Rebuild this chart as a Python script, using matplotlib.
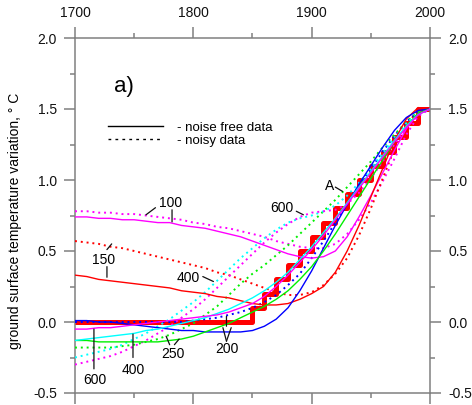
import matplotlib
matplotlib.use("Agg")
import matplotlib.pyplot as plt
from matplotlib.lines import Line2D
from matplotlib.ticker import MultipleLocator

plt.rcParams['font.family'] = ['Liberation Sans', 'DejaVu Sans']

# years for the reconstructed histories (every 10 years)
years = list(range(1700, 2001, 10))

# "true" history A: stepwise warming from 1850
step_years = [1700, 1850, 1860, 1870, 1880, 1890, 1900, 1910, 1920, 1930,
              1940, 1950, 1960, 1970, 1980, 1990, 2000]
step_vals = [0.0, 0.1, 0.2, 0.3, 0.4, 0.5, 0.6, 0.7, 0.8, 0.9,
             1.0, 1.1, 1.2, 1.3, 1.4, 1.5, 1.5]

# noise free (solid) and noisy (dotted) inversions, labelled by parameter
free_100 = [.74, .74, .73, .73, .72, .72, .71, .70, .70, .68, .67, .66, .64, .62, .60, .57,
            .54, .51, .48, .46, .45, .46, .50, .60, .74, .89, 1.05, 1.21, 1.36, 1.47, 1.50]
noisy_100 = [.78, .78, .77, .77, .76, .76, .75, .74, .73, .72, .70, .69, .67, .66, .64, .62,
             .60, .57, .55, .53, .52, .52, .55, .62, .72, .84, .99, 1.15, 1.32, 1.45, 1.50]
free_150 = [.33, .32, .30, .29, .28, .27, .26, .25, .24, .22, .21, .20, .18, .17, .15, .13,
            .12, .12, .13, .16, .20, .25, .35, .50, .68, .88, 1.08, 1.28, 1.43, 1.51, 1.50]
noisy_150 = [.57, .56, .55, .53, .52, .50, .48, .46, .44, .42, .40, .38, .35, .33, .30, .27,
             .24, .21, .19, .19, .21, .26, .34, .45, .61, .80, 1.01, 1.22, 1.39, 1.49, 1.50]
free_200 = [.01, .01, .00, .00, -.01, -.02, -.03, -.04, -.05, -.06, -.06, -.07, -.07, -.07, -.07, -.06,
            -.03, .02, .10, .22, .36, .52, .68, .83, .97, 1.10, 1.23, 1.35, 1.44, 1.49, 1.50]
noisy_200 = [.00, .00, .00, .00, .00, .00, .00, .00, .00, .00, .01, .02, .03, .05, .07, .10,
             .14, .19, .26, .34, .45, .57, .70, .83, .96, 1.08, 1.20, 1.31, 1.41, 1.48, 1.50]
free_250 = [-.13, -.13, -.14, -.14, -.14, -.14, -.14, -.14, -.13, -.12, -.10, -.07, -.04, -.01, .03, .07,
            .11, .16, .22, .30, .39, .50, .62, .75, .88, 1.01, 1.14, 1.27, 1.38, 1.47, 1.50]
noisy_250 = [-.18, -.18, -.18, -.18, -.17, -.16, -.14, -.12, -.09, -.05, -.01, .05, .11, .19, .27, .34,
             .40, .47, .54, .62, .70, .78, .86, .95, 1.04, 1.13, 1.23, 1.32, 1.41, 1.48, 1.50]
free_400 = [-.13, -.12, -.11, -.10, -.09, -.08, -.06, -.05, -.03, -.01, .01, .03, .06, .09, .13, .17,
            .22, .28, .35, .44, .53, .63, .73, .84, .95, 1.06, 1.17, 1.28, 1.38, 1.46, 1.50]
noisy_400 = [-.25, -.23, -.21, -.19, -.16, -.12, -.08, -.03, .02, .08, .14, .21, .29, .37, .45, .52,
             .59, .65, .70, .73, .75, .78, .82, .89, .98, 1.08, 1.19, 1.30, 1.40, 1.47, 1.50]
free_600 = [-.05, -.05, -.04, -.04, -.03, -.02, -.01, .00, .01, .02, .03, .04, .05, .07, .10, .13,
            .18, .25, .33, .42, .51, .61, .72, .83, .94, 1.05, 1.16, 1.27, 1.37, 1.46, 1.50]
noisy_600 = [-.30, -.28, -.26, -.24, -.21, -.17, -.13, -.08, -.03, .03, .09, .16, .24, .32, .40, .48,
             .56, .63, .69, .74, .77, .78, .79, .83, .91, 1.01, 1.13, 1.25, 1.37, 1.46, 1.50]

series = [
    (free_100, noisy_100, '#ff00ff'),
    (free_150, noisy_150, '#ff0000'),
    (free_200, noisy_200, '#0000ff'),
    (free_250, noisy_250, '#00f000'),
    (free_400, noisy_400, '#00ffff'),
    (free_600, noisy_600, '#ff00ff'),
]

fig = plt.figure(figsize=(4.72, 4.05), dpi=100)
ax = fig.add_axes([75 / 472, 12 / 405, 355 / 472, 355 / 405])

ax.step(step_years, step_vals, where='post', color='#ff0000', lw=3.6, zorder=2)
for free, noisy, col in series:
    ax.plot(years, noisy, color=col, lw=1.4, ls=(0, (1, 2)), zorder=3)
    ax.plot(years, free, color=col, lw=1.0, zorder=4)

ax.set_xlim(1700, 2000)
ax.set_ylim(-0.5, 2.0)
ax.xaxis.set_major_locator(MultipleLocator(100))
ax.xaxis.set_minor_locator(MultipleLocator(50))
ax.yaxis.set_major_locator(MultipleLocator(0.5))
ax.yaxis.set_minor_locator(MultipleLocator(0.25))
ax.yaxis.set_major_formatter(matplotlib.ticker.FormatStrFormatter('%.1f'))

gray = '#808080'
for sp in ax.spines.values():
    sp.set_color(gray)
    sp.set_linewidth(1.1)
ax.tick_params(which='both', direction='out', color=gray, width=1.1,
               top=True, right=True, labeltop=True, labelright=True,
               labelbottom=False, labelsize=10, labelcolor='#111111')
ax.tick_params(which='major', length=8, pad=5)
ax.tick_params(which='minor', length=3.5)

ax.text(-0.169, 0.4845, 'ground surface temperature variation, \u00b0 C',
        transform=ax.transAxes, rotation=90, ha='center', va='center', fontsize=10)

ax.text(0.11, 0.862, 'a)', transform=ax.transAxes, fontsize=16, va='center', ha='left')

handles = [Line2D([], [], color='black', lw=1.0),
           Line2D([], [], color='black', lw=1.0, ls=(0, (2, 3)))]
ax.legend(handles, ['- noise free data', '- noisy data'], loc='center left',
          bbox_to_anchor=(0.093, 0.7296), frameon=False, fontsize=9.5,
          handlelength=4.2, handletextpad=1.0, labelspacing=0.05,
          borderpad=0, borderaxespad=0)

# curve labels with leader lines: (text, text pos, [leader (start, end), ...])
labels = [
    ('100', (1781, 0.84), [((1768, 0.805), (1760, 0.755)), ((1782, 0.79), (1782, 0.705))]),
    ('150', (1724, 0.44), [((1727, 0.51), (1731, 0.55)), ((1727, 0.39), (1727, 0.315))]),
    ('400', (1796, 0.31), [((1808, 0.32), (1817, 0.285))]),
    ('600', (1875, 0.80), [((1887, 0.78), (1893, 0.755))]),
    ('A', (1915, 0.96), [((1920, 0.95), (1926, 0.92))]),
    ('200', (1828, -0.19), [((1828, -0.135), (1825, -0.04)), ((1828, -0.135), (1832, -0.04)),
                            ((1828, -0.03), (1828, 0.04))]),
    ('250', (1783, -0.225), [((1780, -0.16), (1777, -0.10)), ((1784, -0.16), (1788, -0.12))]),
    ('400', (1749, -0.335), [((1749, -0.25), (1749, -0.085))]),
    ('600', (1717, -0.41), [((1716, -0.33), (1716, -0.05))]),
]
for txt, pos, leaders in labels:
    ax.text(pos[0], pos[1], txt, ha='center', va='center', fontsize=10, zorder=6)
    for a, b in leaders:
        ax.annotate('', xy=b, xytext=a,
                    arrowprops=dict(arrowstyle='-', color='#111111', lw=0.9,
                                    shrinkA=0, shrinkB=0), zorder=6)

fig.savefig('out.png', dpi=100)
